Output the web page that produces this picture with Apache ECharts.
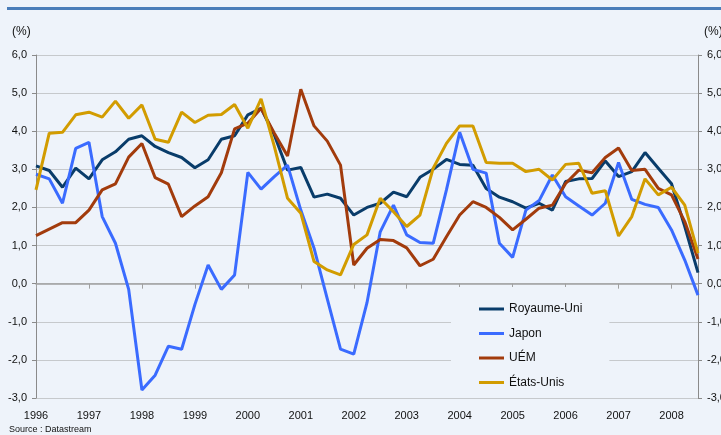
<!DOCTYPE html>
<html>
<head>
<meta charset="utf-8">
<script src="https://cdn.jsdelivr.net/npm/echarts@6/dist/echarts.min.js"></script>
<style>
  html, body { margin: 0; padding: 0; background: #eef3fa; }
  #chart { width: 721px; height: 435px; }
</style>
</head>
<body>
<div id="chart"></div>
<script>
// trimestres 1996 T1 -> 2008 T3
const years = ["1996", "1997", "1998", "1999", "2000", "2001", "2002", "2003", "2004", "2005", "2006", "2007", "2008"];
const seriesNames = ["Royaume-Uni", "Japon", "UÉM", "États-Unis"];

const ukData = [3.09, 2.97, 2.53, 3.03, 2.75, 3.25, 3.46, 3.79, 3.88, 3.60, 3.44, 3.31, 3.04, 3.25, 3.79, 3.88,
  4.43, 4.60, 3.90, 2.98, 3.05, 2.27, 2.35, 2.24, 1.80, 2.00, 2.11, 2.40, 2.28, 2.79, 3.00, 3.26,
  3.13, 3.11, 2.50, 2.27, 2.15, 1.98, 2.11, 1.93, 2.68, 2.75, 2.76, 3.22, 2.81, 2.94, 3.44, 3.03,
  2.62, 1.50, 0.29];
const japanData = [2.87, 2.75, 2.11, 3.55, 3.71, 1.76, 1.06, -0.15, -2.79, -2.40, -1.64, -1.72, -0.55, 0.49, -0.15, 0.23,
  2.92, 2.48, 2.81, 3.11, 1.93, 0.93, -0.40, -1.72, -1.85, -0.50, 1.36, 2.06, 1.28, 1.08, 1.06, 2.46,
  3.97, 3.00, 2.90, 1.06, 0.69, 1.93, 2.18, 2.85, 2.28, 2.04, 1.80, 2.11, 3.18, 2.21, 2.08, 2.00,
  1.41, 0.62, -0.30];
const uemData = [1.26, 1.43, 1.60, 1.60, 1.93, 2.46, 2.62, 3.32, 3.68, 2.78, 2.61, 1.76, 2.04, 2.28, 2.91, 4.06,
  4.21, 4.60, 3.95, 3.35, 5.10, 4.14, 3.74, 3.11, 0.49, 0.93, 1.16, 1.13, 0.94, 0.47, 0.64, 1.23,
  1.80, 2.15, 2.00, 1.74, 1.41, 1.69, 1.98, 2.06, 2.63, 2.98, 2.91, 3.31, 3.56, 2.97, 3.00, 2.50,
  2.33, 1.63, 0.65];
const usData = [2.46, 3.95, 3.97, 4.43, 4.50, 4.37, 4.79, 4.34, 4.69, 3.79, 3.71, 4.50, 4.23, 4.42, 4.44, 4.70,
  4.08, 4.85, 3.60, 2.24, 1.85, 0.58, 0.36, 0.23, 1.03, 1.28, 2.24, 1.89, 1.50, 1.80, 3.03, 3.68,
  4.14, 4.14, 3.18, 3.16, 3.16, 2.94, 3.00, 2.72, 3.13, 3.16, 2.37, 2.44, 1.25, 1.76, 2.75, 2.33,
  2.53, 2.06, 0.80];

const quarters = [];
years.forEach((y) => {
  for (let q = 1; q <= 4; q++) quarters.push(y + " T" + q);
});
const xData = quarters.slice(0, ukData.length);

const colors = ["#093c6a", "#3a6bff", "#a23b0c", "#d29c00"];
const font = "Arial, 'Liberation Sans', sans-serif";

const fmt = (v) => v.toFixed(1).replace(".", ",");

const yAxisBase = {
  type: "value",
  min: -3,
  max: 6,
  interval: 1,
  axisLine: { show: true, lineStyle: { color: "#8a8a8a", width: 1 } },
  axisTick: { show: true, length: 4, lineStyle: { color: "#8a8a8a" } },
  axisLabel: { color: "#111", fontSize: 11, fontFamily: font, formatter: fmt, margin: 9 },
};

let myChart = echarts.init(document.getElementById("chart"));
let option = {
  backgroundColor: "#eef3fa",
  animation: false,
  color: colors,
  textStyle: { fontFamily: font },
  grid: { left: 36, right: 23, top: 55, bottom: 37, containLabel: false, outerBoundsMode: "none" },
  legend: {
    data: seriesNames,
    orient: "vertical",
    left: 451,
    top: 287,
    icon: "rect",
    itemWidth: 25,
    itemHeight: 3,
    itemGap: 12.5,
    padding: [16, 27, 9, 28],
    backgroundColor: "#eef3fa",
    textStyle: { color: "#111", fontSize: 12, fontFamily: font, lineHeight: 12 },
  },
  graphic: [
    { type: "rect", left: 7, top: 7, shape: { width: 714, height: 3 }, style: { fill: "#4a7db9" } },
    { type: "text", left: 12, top: 26, style: { text: "(%)", fontSize: 12, fontFamily: font, fill: "#111" } },
    { type: "text", left: 704, top: 26, style: { text: "(%)", fontSize: 12, fontFamily: font, fill: "#111" } },
    { type: "text", left: 9, top: 425, style: { text: "Source : Datastream", fontSize: 9, fontFamily: font, fill: "#111" } },
  ],
  xAxis: [
    {
      type: "category",
      data: xData,
      boundaryGap: false,
      position: "bottom",
      axisLine: { show: false, onZero: false },
      axisTick: { show: false },
      axisLabel: {
        interval: 3,
        margin: 12,
        color: "#111",
        fontSize: 11,
        fontFamily: font,
        formatter: (v) => v.slice(0, 4),
      },
    },
    {
      type: "category",
      data: xData,
      boundaryGap: false,
      position: "bottom",
      axisLine: { show: true, onZero: true, lineStyle: { color: "#a0a0a0", width: 1.5 } },
      axisTick: { show: true, interval: 3, length: 5, lineStyle: { color: "#a0a0a0" } },
      axisLabel: { show: false },
    },
  ],
  yAxis: [
    Object.assign({}, yAxisBase, {
      position: "left",
      splitLine: { show: true, lineStyle: { color: "#c6c9cc", width: 1 } },
    }),
    Object.assign({}, yAxisBase, {
      position: "right",
      splitLine: { show: false },
    }),
  ],
  series: [ukData, japanData, uemData, usData].map((d, i) => ({
    name: seriesNames[i],
    type: "line",
    data: d,
    xAxisIndex: 0,
    yAxisIndex: 0,
    symbol: "none",
    lineStyle: { width: 3, color: colors[i] },
    itemStyle: { color: colors[i] },
  })),
};
myChart.setOption(option, true);
</script>
</body>
</html>
